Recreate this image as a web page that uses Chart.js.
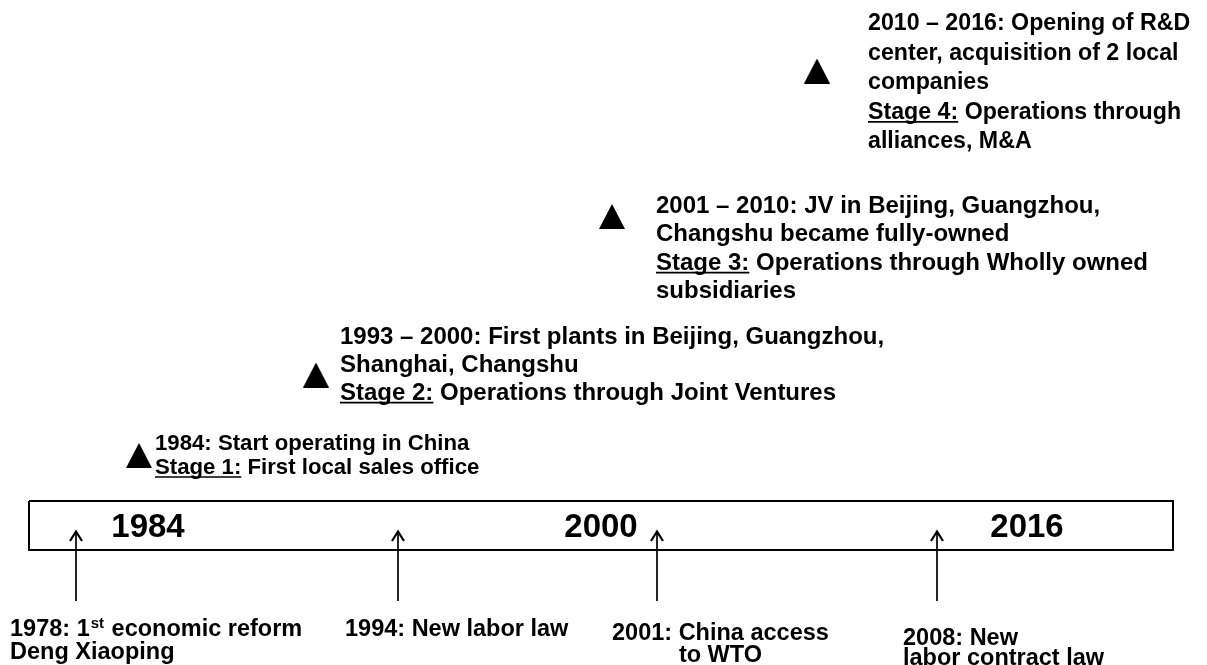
<!DOCTYPE html>
<html>
<head>
<meta charset="utf-8">
<script src="https://cdn.jsdelivr.net/npm/chart.js@4.4.1/dist/chart.umd.min.js"></script>
<style>
  html, body { margin: 0; padding: 0; background: #fff; }
  #wrap { width: 1207px; height: 665px; }
</style>
</head>
<body>
<div id="wrap"><canvas id="myChart" width="1207" height="665"></canvas></div>
<script>
// stages of the company in China (triangles + text)
const stageNames = ['Stage 1:', 'Stage 2:', 'Stage 3:', 'Stage 4:'];
const stagePeriods = [
  ['1984: Start operating in China'],
  ['1993 \u2013 2000: First plants in Beijing, Guangzhou,', 'Shanghai, Changshu'],
  ['2001 \u2013 2010: JV in Beijing, Guangzhou,', 'Changshu became fully-owned'],
  ['2010 \u2013 2016: Opening of R&D', 'center, acquisition of 2 local', 'companies']
];
const stageModes = [
  ['First local sales office'],
  ['Operations through Joint Ventures'],
  ['Operations through Wholly owned', 'subsidiaries'],
  ['Operations through', 'alliances, M&A']
];
const stageX = [139, 316, 612, 817];
const stageY = [455.5, 375, 216.5, 71];

// events below the timeline (arrows)
const eventLabels = [
  ['1978: 1^st^ economic reform', 'Deng Xiaoping'],
  ['1994: New labor law'],
  ['2001: China access', 'to WTO'],
  ['2008: New', 'labor contract law']
];
const eventX = [76, 398, 657, 937];

// years written in the timeline bar
const yearLabels = ['1984', '2000', '2016'];
const yearX = [148, 601, 1027];

// timeline bar
const barStart = 29, barEnd = 1173, barTop = 501, barBottom = 550;
const arrowTop = 530, arrowBottom = 601;

const FONT = '"Liberation Sans", Arial, sans-serif';

// filled triangle marker
const tri = document.createElement('canvas');
tri.width = 26; tri.height = 25;
(function () {
  const c = tri.getContext('2d');
  c.fillStyle = '#000';
  c.beginPath();
  c.moveTo(13, 0);
  c.lineTo(26, 25);
  c.lineTo(0, 25);
  c.closePath();
  c.fill();
})();

// open arrow head, tip at the centre of the canvas
const head = document.createElement('canvas');
head.width = 18; head.height = 24;
(function () {
  const c = head.getContext('2d');
  c.strokeStyle = '#000';
  c.lineWidth = 2.2;
  c.lineJoin = 'miter';
  c.beginPath();
  c.moveTo(3, 22);
  c.lineTo(9, 12.5);
  c.lineTo(15, 22);
  c.stroke();
})();

const datasets = [];

datasets.push({
  type: 'line',
  data: [
    { x: barStart, y: barTop }, { x: barEnd, y: barTop },
    { x: barEnd, y: barBottom }, { x: barStart, y: barBottom },
    { x: barStart, y: barTop }
  ],
  borderColor: '#000',
  borderWidth: 2,
  pointRadius: 0,
  fill: false
});

eventX.forEach(function (ex) {
  datasets.push({
    type: 'line',
    data: [{ x: ex, y: arrowTop + 1 }, { x: ex, y: arrowBottom }],
    borderColor: '#000',
    borderWidth: 1.7,
    pointStyle: [head, 'circle'],
    pointRadius: [6, 0],
    fill: false
  });
});

datasets.push({
  type: 'scatter',
  data: stageX.map(function (x, i) { return { x: x, y: stageY[i] }; }),
  pointStyle: tri,
  pointRadius: 13,
  backgroundColor: '#000'
});

// draws all the text of the diagram
const textPlugin = {
  id: 'timelineText',
  afterDatasetsDraw(chart) {
    const ctx = chart.ctx;
    const sx = chart.scales.x, sy = chart.scales.y;
    ctx.save();
    ctx.fillStyle = '#000';
    ctx.strokeStyle = '#000';
    ctx.textBaseline = 'alphabetic';

    // year labels
    ctx.font = 'bold 33px ' + FONT;
    ctx.textAlign = 'center';
    yearLabels.forEach(function (t, i) {
      ctx.fillText(t, sx.getPixelForValue(yearX[i]), sy.getPixelForValue((barTop + barBottom) / 2) + 11.5);
    });

    // stage texts
    ctx.textAlign = 'left';
    const textX = [155, 340, 656, 868];
    const firstY = [442, 335, 204, 22];
    const lineH = [24, 28, 28.5, 29.5];
    const fs = [22.2, 24, 24, 23.2];
    stageNames.forEach(function (name, i) {
      ctx.font = 'bold ' + fs[i] + 'px ' + FONT;
      const x0 = sx.getPixelForValue(textX[i]);
      let y = sy.getPixelForValue(firstY[i]) + fs[i] * 0.36;
      stagePeriods[i].forEach(function (line) {
        ctx.fillText(line, x0, y);
        y += lineH[i];
      });
      stageModes[i].forEach(function (line, k) {
        if (k === 0) {
          ctx.fillText(name, x0, y);
          const w = ctx.measureText(name).width;
          ctx.lineWidth = 1.6;
          ctx.beginPath();
          ctx.moveTo(x0, y + 3);
          ctx.lineTo(x0 + w, y + 3);
          ctx.stroke();
          ctx.fillText(' ' + line, x0 + w, y);
        } else {
          ctx.fillText(line, x0, y);
        }
        y += lineH[i];
      });
    });

    // event texts
    const evX = [10, 345, 612, 903];
    const evY = [628, 628, 632, 637];
    const evH = [23, 23, 22, 20];
    const efs = 23.5;
    ctx.font = 'bold ' + efs + 'px ' + FONT;
    eventLabels.forEach(function (lines, i) {
      let y = evY[i] + efs * 0.36;
      lines.forEach(function (line, k) {
        let x = sx.getPixelForValue(evX[i]);
        if (i === 2 && k === 1) {
          x += (ctx.measureText(lines[0]).width - ctx.measureText(line).width) / 2;
        }
        const parts = line.split('^');
        parts.forEach(function (p, j) {
          if (j % 2 === 1) {
            ctx.font = 'bold 15px ' + FONT;
            ctx.fillText(p, x + 1, y - 8);
            x += 2;
          } else {
            ctx.font = 'bold ' + efs + 'px ' + FONT;
            ctx.fillText(p, x, y);
          }
          x += ctx.measureText(p).width;
        });
        ctx.font = 'bold ' + efs + 'px ' + FONT;
        y += evH[i];
      });
    });
    ctx.restore();
  }
};

new Chart(document.getElementById('myChart').getContext('2d'), {
  type: 'scatter',
  data: { datasets: datasets },
  options: {
    responsive: false,
    animation: false,
    layout: { padding: 0, autoPadding: false },
    plugins: { legend: { display: false }, tooltip: { enabled: false } },
    scales: {
      x: { type: 'linear', min: 0, max: 1207, display: false },
      y: { type: 'linear', min: 0, max: 665, reverse: true, display: false }
    }
  },
  plugins: [textPlugin]
});
</script>
</body>
</html>
